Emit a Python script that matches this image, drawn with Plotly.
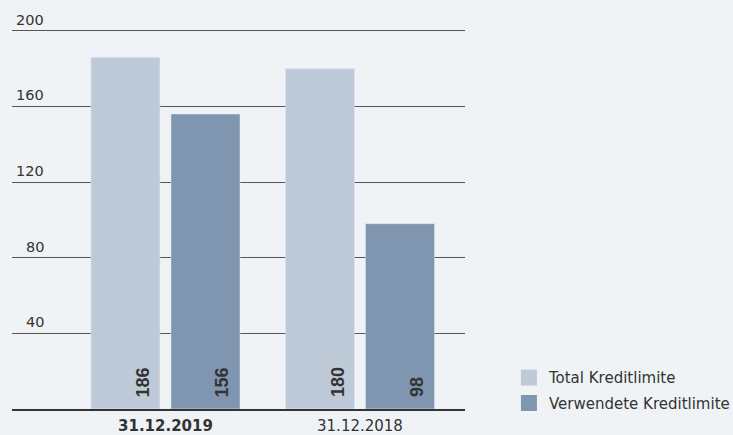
import plotly.graph_objects as go

categories = ["31.12.2019", "31.12.2018"]
total_limit = [186, 180]
used_limit = [156, 98]
series_names = ["Total Kreditlimite", "Verwendete Kreditlimite"]
y_ticks = [40, 80, 120, 160, 200]

BG = "#eff3f6"
C_LIGHT = "#bfcad9"
C_DARK = "#8095b0"
TXT = "#333333"
FONT = "DejaVu Sans"
colors = [C_LIGHT, C_DARK]

fig = go.Figure()
for name, vals, col in zip(series_names, (total_limit, used_limit), colors):
    fig.add_bar(x=categories, y=vals, name=name, marker_color=col,
                showlegend=False, legendgroup=name)
# legend entries with larger square swatches
for name, col in zip(series_names, colors):
    fig.add_scatter(x=[None], y=[None], mode="markers", name=name,
                    legendgroup=name,
                    marker=dict(symbol="square", size=16, color=col))

annotations = []
# y tick labels sitting above the gridlines
for v in y_ticks:
    annotations.append(dict(
        x=0.0684, xref="paper", y=v, yref="y", text=str(v),
        xanchor="right", yanchor="bottom", xshift=3, yshift=1, showarrow=False,
        font=dict(family=FONT, size=14.5, color=TXT)))
# value labels inside bars, rotated
for vals, shift in ((total_limit, -22), (used_limit, 57)):
    for c, v in zip(categories, vals):
        annotations.append(dict(
            x=c, xref="x", y=0, yref="y", text=f"<b>{v}</b>",
            textangle=-90, xanchor="center", yanchor="bottom",
            xshift=shift, yshift=10, showarrow=False,
            font=dict(family="Liberation Sans", size=18, color=TXT)))

fig.update_layout(
    width=733, height=435,
    margin=dict(l=12, r=268, t=27, b=26, autoexpand=False),
    paper_bgcolor=BG, plot_bgcolor=BG,
    barmode="group", bargap=0.177, bargroupgap=0.1375,
    font=dict(family=FONT, size=15, color=TXT),
    showlegend=True,
    legend=dict(x=1.097, xanchor="left", y=0.125, yanchor="top",
                tracegroupgap=3,
                bgcolor="rgba(0,0,0,0)", font=dict(family=FONT, size=15, color=TXT)),
    annotations=annotations,
    xaxis=dict(
        type="category", range=[-0.789, 1.54],
        tickvals=categories,
        ticktext=[f"<b>{c}</b>" if i == 0 else c for i, c in enumerate(categories)],
        tickfont=dict(family=FONT, size=15, color=TXT),
        showgrid=False, showline=True, linecolor="#333333", linewidth=2,
        ticks="", ticklabelstandoff=2, fixedrange=True),
    yaxis=dict(
        range=[0, 202], tickvals=y_ticks, showticklabels=False,
        showgrid=True, gridcolor="#555555", gridwidth=1,
        zeroline=False, showline=False, ticks="", fixedrange=True),
)

fig.write_html(
    "out.html",
    config={"displayModeBar": False},
    post_script="document.body.style.margin='0';document.body.style.overflow='hidden';",
)
